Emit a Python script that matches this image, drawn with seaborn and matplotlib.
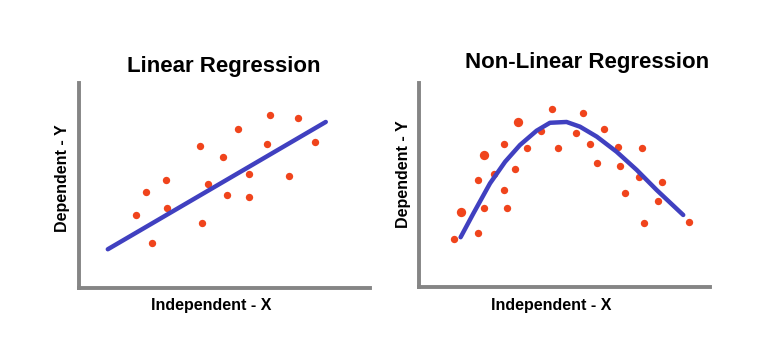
import matplotlib
matplotlib.use("Agg")
import matplotlib.pyplot as plt
import numpy as np
import pandas as pd
import seaborn as sns

sns.set_theme(style="white")
plt.rcParams["font.family"] = ["Liberation Sans", "DejaVu Sans"]
plt.rcParams["text.color"] = "black"
plt.rcParams["axes.labelcolor"] = "black"

# linear panel
lin_x = [1.95, 2.29, 2.52, 3.00, 3.03, 4.15, 4.24, 4.44, 4.96, 5.10, 5.45, 5.85, 5.85, 6.47, 6.57, 7.23, 7.54, 8.12]
lin_y = [3.55, 4.67, 2.18, 5.25, 3.89, 6.91, 3.16, 5.06, 6.38, 4.52, 7.77, 5.55, 4.42, 7.01, 8.42, 5.45, 8.28, 7.11]
lin_fit_x = [0.99, 8.48]
lin_fit_y = [1.89, 8.10]

# non-linear panel
nl_x = [1.21, 1.44, 2.04, 2.02, 2.22, 2.24, 2.58, 2.93, 2.93, 3.03, 3.29, 3.39, 3.72, 4.18, 4.56,
        4.77, 5.38, 5.65, 5.89, 6.13, 6.37, 6.83, 6.91, 7.09, 7.56, 7.67, 7.72, 8.22, 8.34, 9.27]
nl_y = [2.34, 3.68, 2.63, 5.23, 3.86, 6.47, 5.52, 7.00, 4.74, 3.86, 5.77, 8.07, 6.83, 7.66, 8.71,
        6.80, 7.53, 8.51, 7.00, 6.06, 7.73, 6.85, 5.95, 4.59, 5.41, 6.80, 3.12, 4.20, 5.16, 3.17]
nl_big = [0, 1, 0, 0, 0, 1, 0, 0, 0, 0, 0, 1, 0, 0, 0, 0, 0, 0, 0, 0, 0, 0, 0, 0, 0, 0, 0, 0, 0, 0]
nl_fit_x = [1.43, 1.87, 2.44, 2.96, 3.47, 4.04, 4.50, 5.07, 5.53, 6.11, 6.79, 7.48, 8.17, 9.08]
nl_fit_y = [2.44, 3.61, 5.08, 6.14, 6.96, 7.66, 8.05, 8.09, 7.86, 7.37, 6.63, 5.74, 4.75, 3.53]

DOT = "#f0441c"
LINE = "#4040c0"
SPINE = "#858585"

fig = plt.figure(figsize=(7.81, 3.58), dpi=100)
ax1 = fig.add_axes([79 / 781, 70 / 358, 291 / 781, 205 / 358])
ax2 = fig.add_axes([419 / 781, 71 / 358, 291 / 781, 204 / 358])


def style(ax, title, tx, ty, ylx, yly, xlx, xly):
    ax.set_xlim(0, 10)
    ax.set_ylim(0, 10)
    ax.set_xticks([])
    ax.set_yticks([])
    for side in ["top", "right"]:
        ax.spines[side].set_visible(False)
    for side in ["left", "bottom"]:
        ax.spines[side].set_color(SPINE)
        ax.spines[side].set_linewidth(2.8)
    ax.set_title(title, fontsize=16, fontweight="bold", x=tx, y=ty, pad=0)
    ax.set_ylabel("Dependent - Y", fontsize=11.5, fontweight="bold")
    ax.set_xlabel("Independent - X", fontsize=11.5, fontweight="bold")
    ax.yaxis.set_label_coords(ylx, yly)
    ax.xaxis.set_label_coords(xlx, xly)


lin_df = pd.DataFrame({"x": lin_x, "y": lin_y})
sns.lineplot(x=lin_fit_x, y=lin_fit_y, color=LINE, linewidth=3.2, ax=ax1)
sns.scatterplot(data=lin_df, x="x", y="y", color=DOT, s=28, linewidth=0, ax=ax1)
style(ax1, "Linear Regression", 0.496, 1.055, -0.031, 0.537, 0.454, -0.05)

nl_df = pd.DataFrame({"x": nl_x, "y": nl_y, "big": nl_big})
sns.lineplot(x=nl_fit_x, y=nl_fit_y, color=LINE, linewidth=3.2, sort=False, ax=ax2)
sns.scatterplot(data=nl_df[nl_df.big == 0], x="x", y="y", color=DOT, s=28, linewidth=0, ax=ax2)
sns.scatterplot(data=nl_df[nl_df.big == 1], x="x", y="y", color=DOT, s=45, linewidth=0, ax=ax2)
style(ax2, "Non-Linear Regression", 0.579, 1.072, -0.028, 0.554, 0.454, -0.055)

fig.savefig("out.png", dpi=100)
